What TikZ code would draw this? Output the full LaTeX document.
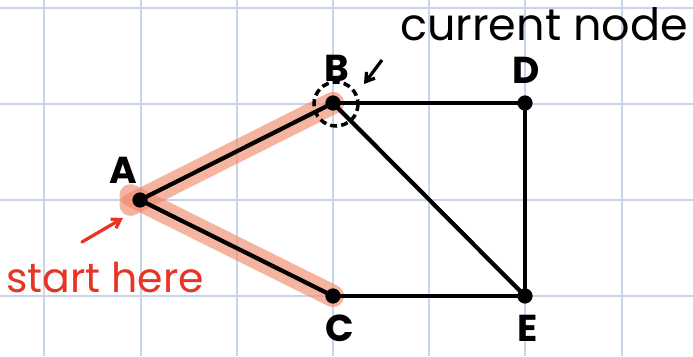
\documentclass[tikz,border=0pt]{standalone}
\usepackage{fontspec}
\setmainfont{Poppins}
\usetikzlibrary{arrows.meta,positioning}
\definecolor{gridblue}{RGB}{200,212,232}
\definecolor{hilite}{RGB}{240,140,110}
\definecolor{penred}{RGB}{232,52,36}

\begin{document}
\begin{tikzpicture}[x=0.03cm,y=-0.03cm,dot/.style={circle,fill,inner sep=0pt,minimum size=13pt},lbl/.style={font=\fontsize{32}{34}\selectfont\bfseries,inner sep=1pt},edge/.style={line width=3.6pt,line cap=round},glow/.style={hilite,opacity=0.65,line width=19pt,line cap=round,shorten <=-9pt},>=Latex]
\useasboundingbox (0,0) rectangle (693,356);
\fill[white] (0,0) rectangle (693,356);
% grid paper
\foreach \x in {44,141,237,333,429,525,622}{\draw[gridblue,line width=1pt] (\x,0)--(\x,356);}
\foreach \y in {8,104,200,296}{\draw[gridblue,line width=1pt] (0,\y)--(693,\y);}
% vertices
\coordinate (A) at (140,200);
\coordinate (B) at (333,103);
\coordinate (D) at (525,103);
\coordinate (C) at (333,296);
\coordinate (E) at (525,296);
% path taken so far
\draw[glow] (A)--(B);
\draw[glow] (A)--(C);
\foreach \x/\y in {A/B,A/C,B/D,B/E,D/E,C/E}{\draw[edge] (\x)--(\y);}
\foreach \v in {A,B,C,D,E}{\node[dot] (n\v) at (\v) {};}
\node[lbl] (lA) at (123,170) {A};
\node[lbl] (lB) at (337,68) {B};
\node[lbl] (lD) at (526,70) {D};
\node[lbl] (lC) at (340,328) {C};
\node[lbl] (lE) at (528,328) {E};
% current node marker
\draw[line width=3pt,dash pattern=on 6pt off 3.5pt] (336,104) circle (22);
\node[font=\fontsize{38}{40}\selectfont,anchor=base west,inner sep=0pt] (cur) at (400,40) {current node};
\coordinate (curtip) at (364,84);
\coordinate (curtail) at (382,60);
\draw[line width=2.8pt,-{Straight Barb[length=7pt,width=9pt]}] (curtail)--(curtip);
% start marker
\node[penred,font=\fontsize{35}{37}\selectfont,anchor=base west] (start) at (2,292) {start here};
\coordinate (sttail) at (82,242);
\coordinate (sttip) at (123,218);
\draw[penred,line width=2.8pt,line cap=round,-{Straight Barb[length=7pt,width=9pt]}] (sttail)--(sttip);
\end{tikzpicture}
\end{document}
